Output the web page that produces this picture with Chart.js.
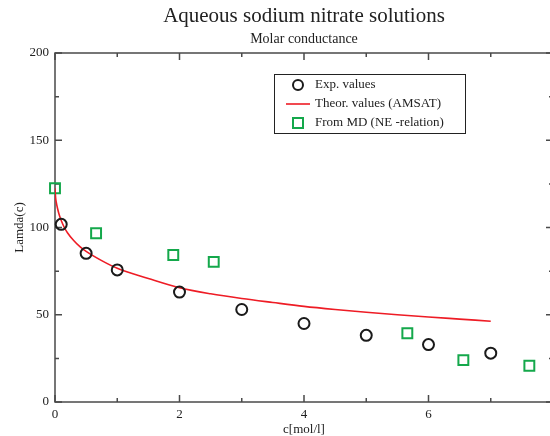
<!DOCTYPE html>
<html>
<head>
<meta charset="utf-8">
<script src="https://cdn.jsdelivr.net/npm/chart.js@4.4.0/dist/chart.umd.min.js"></script>
<style>
  html, body { margin: 0; padding: 0; background: #fff; overflow: hidden; }
  #wrap { width: 553px; height: 436px; }
</style>
</head>
<body>
<div id="wrap"><canvas id="chart" width="553" height="436"></canvas></div>
<script>
// experimental values
const expC = [0.1, 0.5, 1, 2, 3, 4, 5, 6, 7];
const expLambda = [101.8, 85.2, 75.7, 63, 53, 45, 38.2, 32.9, 28];

// theoretical curve (AMSAT)
const theoC = [0, 0.01, 0.02, 0.04, 0.07, 0.1, 0.15, 0.2, 0.3, 0.4, 0.5, 0.75, 1, 1.5, 2, 2.5, 3, 3.5, 4, 4.5, 5, 5.5, 6, 6.5, 7];
const theoLambda = [122.5, 117, 114.5, 111, 107, 104, 100, 97, 92.5, 89, 86.3, 81, 76.6, 70.8, 65.5, 62, 59.3, 57, 54.8, 53, 51.4, 50, 48.7, 47.5, 46.3];

// MD results
const mdC = [0, 0.66, 1.9, 2.55, 5.66, 6.56, 7.62];
const mdLambda = [122.5, 96.7, 84.2, 80.3, 39.4, 24, 20.8];

const xTicks = [0, 2, 4, 6];
const yTicks = [0, 50, 100, 150, 200];

const serif = 'Liberation Serif';
const textColor = '#222';
const axisColor = '#4a4a4a';

function toPoints(xs, ys) {
    return xs.map((v, i) => ({ x: v, y: ys[i] }));
}

// frame + inward ticks on all four sides
const frameTicks = {
    id: 'frameTicks',
    beforeDatasetsDraw(chart) {
        const { ctx, chartArea: a, scales: { x, y } } = chart;
        ctx.save();
        ctx.strokeStyle = axisColor;
        ctx.lineWidth = 1.5;
        ctx.strokeRect(a.left, a.top, a.right - a.left, a.bottom - a.top);
        ctx.beginPath();
        x.ticks.forEach(t => {
            const px = x.getPixelForValue(t.value);
            const len = t.value % 2 === 0 ? 7 : 4;
            ctx.moveTo(px, a.bottom); ctx.lineTo(px, a.bottom - len);
            ctx.moveTo(px, a.top); ctx.lineTo(px, a.top + len);
        });
        y.ticks.forEach(t => {
            const py = y.getPixelForValue(t.value);
            const len = yTicks.includes(t.value) ? 7 : 4;
            ctx.moveTo(a.left, py); ctx.lineTo(a.left + len, py);
            ctx.moveTo(a.right, py); ctx.lineTo(a.right - len, py);
        });
        ctx.stroke();
        ctx.restore();
    }
};

// boxed legend inside the plot
const boxLegend = {
    id: 'boxLegend',
    afterDraw(chart) {
        const ctx = chart.ctx;
        const x0 = 274, y0 = 74, w = 191, h = 59;
        ctx.save();
        ctx.fillStyle = '#fff';
        ctx.fillRect(x0, y0, w, h);
        ctx.strokeStyle = '#222';
        ctx.lineWidth = 1;
        ctx.strokeRect(x0 + 0.5, y0 + 0.5, w, h);
        ctx.font = '13px "' + serif + '"';
        ctx.textBaseline = 'middle';
        chart.data.datasets.forEach((ds, i) => {
            const cy = y0 + 11 + i * 19;
            const sx = x0 + 24;
            ctx.strokeStyle = ds.borderColor;
            ctx.lineWidth = 2;
            ctx.beginPath();
            if (ds.pointStyle === 'circle') {
                ctx.arc(sx, cy, 5, 0, Math.PI * 2);
            } else if (ds.pointStyle === 'rect') {
                ctx.rect(sx - 5, cy - 5, 10, 10);
            } else {
                ctx.lineWidth = 1.6;
                ctx.moveTo(sx - 12, cy); ctx.lineTo(sx + 12, cy);
            }
            ctx.stroke();
            ctx.fillStyle = textColor;
            ctx.fillText(ds.label, x0 + 41, cy);
        });
        ctx.restore();
    }
};

const ctx = document.getElementById('chart').getContext('2d');
new Chart(ctx, {
    type: 'scatter',
    data: {
        datasets: [
            {
                label: 'Exp. values',
                data: toPoints(expC, expLambda),
                pointStyle: 'circle',
                pointRadius: 5.5,
                pointHoverRadius: 5.5,
                borderColor: '#1a1a1a',
                backgroundColor: 'rgba(0,0,0,0)',
                borderWidth: 2,
                clip: false,
            },
            {
                label: 'Theor. values (AMSAT)',
                type: 'line',
                data: toPoints(theoC, theoLambda),
                borderColor: '#ee1c25',
                borderWidth: 1.6,
                pointRadius: 0,
                fill: false,
                cubicInterpolationMode: 'monotone',
            },
            {
                label: 'From MD (NE -relation)',
                data: toPoints(mdC, mdLambda),
                pointStyle: 'rect',
                pointRadius: 7,
                pointHoverRadius: 7,
                borderColor: '#14a84b',
                backgroundColor: 'rgba(0,0,0,0)',
                borderWidth: 2,
                clip: false,
            },
        ],
    },
    options: {
        responsive: false,
        animation: false,
        layout: { padding: 0, autoPadding: false },
        plugins: {
            legend: { display: false },
            tooltip: { enabled: false },
            title: {
                display: true,
                text: 'Aqueous sodium nitrate solutions',
                fullSize: false,
                color: textColor,
                font: { family: serif, size: 21, weight: 'normal' },
                padding: { top: 4, bottom: 2 },
            },
            subtitle: {
                display: true,
                text: 'Molar conductance',
                fullSize: false,
                color: textColor,
                font: { family: serif, size: 14, weight: 'normal' },
                padding: { top: 0, bottom: 5 },
            },
        },
        scales: {
            x: {
                type: 'linear',
                min: 0,
                max: 8,
                grid: { display: false, drawTicks: false },
                border: { display: false },
                afterFit: s => { s.paddingRight = 0; s.paddingLeft = 0; },
                ticks: {
                    stepSize: 1,
                    autoSkip: false,
                    maxRotation: 0,
                    padding: 6,
                    color: textColor,
                    font: { family: serif, size: 13, lineHeight: 1 },
                    callback: v => (xTicks.includes(v) ? v : ''),
                },
                title: {
                    display: true,
                    text: 'c[mol/l]',
                    color: textColor,
                    font: { family: serif, size: 13, lineHeight: 1 },
                    padding: { top: -4, bottom: 0 },
                },
            },
            y: {
                min: 0,
                max: 200,
                grid: { display: false, drawTicks: false },
                border: { display: false },
                afterFit: s => { s.width = 55; },
                ticks: {
                    stepSize: 25,
                    autoSkip: false,
                    padding: 6,
                    color: textColor,
                    font: { family: serif, size: 13 },
                    callback: v => (yTicks.includes(v) ? v : ''),
                },
                title: {
                    display: true,
                    text: 'Lamda(c)',
                    color: textColor,
                    font: { family: serif, size: 13 },
                    padding: { top: 12, bottom: 0 },
                },
            },
        },
    },
    plugins: [frameTicks, boxLegend],
});
</script>
</body>
</html>
